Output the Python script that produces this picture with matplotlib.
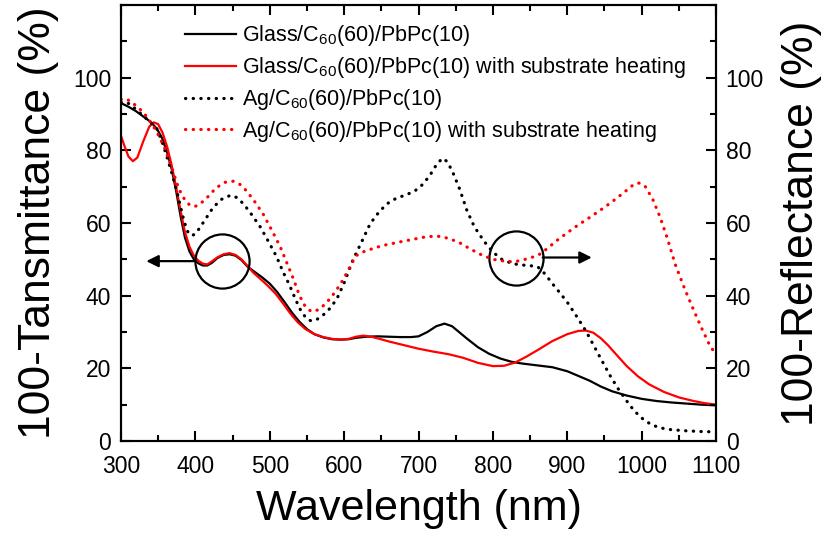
import matplotlib
matplotlib.use("Agg")
import matplotlib.pyplot as plt
from matplotlib.ticker import MultipleLocator

plt.rcParams['font.family'] = ['Liberation Sans', 'DejaVu Sans']
plt.rcParams['mathtext.fontset'] = 'custom'
plt.rcParams['mathtext.rm'] = 'Liberation Sans'
plt.rcParams['mathtext.it'] = 'Liberation Sans:italic'

# Glass/C60/PbPc : 100 - transmittance (%)
wl_glass = [300, 310, 320, 330, 340, 348, 355, 362, 368, 374, 380, 386, 392, 398,
            404, 410, 416, 422, 430, 438, 446, 454, 462, 470, 480, 490, 500, 510,
            520, 530, 540, 550, 560, 572, 584, 596, 606, 616, 630, 645, 660, 675,
            690, 700, 712, 724, 735, 745, 755, 765, 780, 795, 810, 825, 840, 860,
            880, 900, 915, 930, 945, 960, 980, 1000, 1020, 1040, 1060, 1080, 1100]
t_glass = [93.0, 92.0, 90.8, 89.3, 87.8, 86.0, 83.5, 79.5, 75.0, 69.0, 62.0, 56.0,
           52.2, 50.0, 48.9, 48.3, 48.3, 49.0, 50.4, 51.2, 51.4, 51.0, 49.8, 48.0,
           46.5, 45.0, 43.3, 41.0, 38.2, 35.3, 32.8, 30.8, 29.4, 28.5, 28.0, 27.9,
           28.0, 28.4, 28.7, 28.8, 28.7, 28.6, 28.6, 28.8, 30.0, 31.6, 32.3, 31.6,
           29.9, 28.2, 25.8, 24.0, 22.7, 21.8, 21.3, 20.8, 20.3, 19.2, 17.9, 16.6,
           15.0, 13.7, 12.5, 11.6, 11.0, 10.6, 10.3, 10.0, 9.8]

# Glass/C60/PbPc with substrate heating
wl_glass_h = [300, 305, 310, 316, 322, 330, 338, 344, 350, 356, 362, 368, 374, 380,
              386, 392, 398, 404, 410, 416, 422, 430, 438, 446, 454, 462, 470, 478,
              488, 498, 508, 518, 528, 538, 548, 560, 572, 584, 596, 606, 616, 626,
              636, 646, 660, 680, 700, 720, 740, 760, 780, 800, 815, 830, 845, 860,
              880, 900, 915, 925, 935, 945, 955, 965, 980, 995, 1010, 1030, 1050,
              1070, 1085, 1100]
t_glass_h = [84.0, 81.0, 78.3, 77.0, 78.0, 82.5, 86.5, 87.7, 87.2, 84.8, 81.0, 76.0,
             70.0, 63.5, 57.5, 53.5, 51.0, 49.6, 48.8, 48.6, 49.4, 50.6, 51.4, 51.7,
             51.2, 50.0, 48.2, 46.3, 44.5, 42.6, 40.5, 37.8, 35.0, 32.6, 30.8, 29.4,
             28.6, 28.1, 27.9, 28.1, 28.7, 29.0, 28.7, 28.2, 27.4, 26.4, 25.4, 24.6,
             23.9, 22.9, 21.5, 20.6, 20.7, 21.6, 23.2, 25.0, 27.5, 29.4, 30.3, 30.4,
             29.8, 28.3, 26.3, 24.0, 20.6, 17.8, 15.6, 13.5, 12.0, 11.0, 10.4, 10.0]

# Ag/C60/PbPc : 100 - reflectance (%)
wl_ag = [300, 306, 312, 320, 330, 340, 348, 355, 361, 368, 375, 380, 385, 390, 395,
         400, 406, 415, 424, 435, 447, 456, 465, 475, 487, 498, 509, 518, 527, 535,
         542, 549, 555, 562, 570, 580, 590, 600, 612, 624, 635, 646, 657, 670, 684,
         695, 705, 715, 724, 732, 738, 745, 755, 765, 775, 788, 800, 812, 824, 835,
         848, 860, 870, 880, 890, 900, 912, 925, 935, 945, 957, 968, 980, 990, 1002,
         1013, 1025, 1040, 1060, 1080, 1100]
r_ag = [93.2, 93.3, 92.7, 91.3, 89.5, 87.6, 86.0, 82.5, 78.7, 74.0, 68.8, 64.5, 60.3,
        57.5, 56.5, 57.0, 58.7, 61.5, 64.3, 66.5, 67.6, 67.0, 65.2, 62.5, 59.0, 55.0,
        50.8, 46.5, 42.7, 38.8, 35.8, 33.8, 33.1, 33.3, 34.3, 36.3, 39.0, 43.5, 49.9,
        55.0, 59.8, 62.8, 65.2, 66.8, 67.8, 68.8, 70.5, 73.0, 76.0, 77.8, 77.0, 74.5,
        69.5, 63.5, 59.0, 55.0, 52.0, 50.0, 49.0, 48.5, 48.3, 48.0, 46.0, 43.3, 40.8,
        38.2, 34.5, 30.3, 26.5, 22.7, 18.2, 14.5, 11.0, 8.3, 6.0, 4.5, 3.6, 3.1, 2.8,
        2.6, 2.5]

# Ag/C60/PbPc with substrate heating
wl_ag_h = [300, 306, 312, 320, 330, 337, 343, 350, 359, 365, 370, 375, 380, 386, 393,
           400, 406, 415, 428, 440, 451, 460, 469, 480, 491, 502, 514, 523, 532, 540,
           547, 553, 559, 567, 577, 588, 599, 608, 616, 625, 639, 652, 666, 680, 695,
           710, 725, 740, 755, 770, 785, 800, 815, 828, 840, 852, 864, 875, 888, 900,
           915, 930, 945, 960, 975, 990, 997, 1005, 1015, 1025, 1035, 1045, 1058, 1070,
           1081, 1090, 1100]
r_ag_h = [94.0, 94.2, 93.6, 92.3, 90.5, 88.5, 86.8, 84.3, 80.5, 77.0, 74.2, 71.0, 68.5,
          66.3, 64.8, 64.6, 65.2, 66.8, 69.7, 71.2, 71.5, 70.6, 68.8, 65.8, 62.5, 58.3,
          53.5, 49.0, 44.5, 40.0, 37.3, 36.0, 35.6, 36.3, 38.2, 41.0, 44.5, 48.0, 51.0,
          52.0, 53.0, 53.8, 54.4, 55.0, 55.6, 56.2, 56.4, 55.8, 54.6, 52.8, 51.2, 50.0,
          49.5, 49.3, 49.8, 50.5, 51.5, 53.3, 55.5, 57.3, 59.5, 61.5, 63.6, 65.8, 68.2,
          70.7, 71.0, 70.0, 66.5, 61.5, 55.5, 48.7, 41.8, 36.0, 30.9, 27.0, 23.6]

labels = ['Glass/C$_{60}$(60)/PbPc(10)',
          'Glass/C$_{60}$(60)/PbPc(10) with substrate heating',
          'Ag/C$_{60}$(60)/PbPc(10)',
          'Ag/C$_{60}$(60)/PbPc(10) with substrate heating']

fig = plt.figure(figsize=(8.27, 5.37), dpi=100)
ax = fig.add_axes([0.1463, 0.1788, 0.7195, 0.8119])
ax2 = ax.twinx()

dots = (0, (0.1, 2.3))
l1, = ax.plot(wl_glass, t_glass, color='black', lw=1.6)
l2, = ax.plot(wl_glass_h, t_glass_h, color='red', lw=1.6)
l3, = ax2.plot(wl_ag, r_ag, color='black', lw=2.3, linestyle=dots,
               dash_capstyle='round')
l4, = ax2.plot(wl_ag_h, r_ag_h, color='red', lw=2.3, linestyle=dots,
               dash_capstyle='round')

for a in (ax, ax2):
    a.set_xlim(300, 1100)
    a.set_ylim(0, 120)
    a.yaxis.set_minor_locator(MultipleLocator(10))
    a.set_yticks(range(0, 101, 20))
    for s in a.spines.values():
        s.set_linewidth(1.5)

ax.xaxis.set_major_locator(MultipleLocator(100))
ax.xaxis.set_minor_locator(MultipleLocator(50))
ax.tick_params(which='both', direction='in', width=1.5, labelsize=16.5,
               top=True, right=False)
ax.tick_params(axis='x', pad=10)
ax.tick_params(axis='y', pad=7)
ax.tick_params(which='major', length=7)
ax.tick_params(which='minor', length=4)
ax2.tick_params(which='both', direction='in', width=1.5, labelsize=16.5, pad=7)
ax2.tick_params(which='major', length=7)
ax2.tick_params(which='minor', length=4)

ax.set_xlabel('Wavelength (nm)', fontsize=31, labelpad=8)
ax.set_ylabel('100-Tansmittance (%)', fontsize=32, labelpad=10)
ax2.set_ylabel('100-Reflectance (%)', fontsize=32, labelpad=12)

# circles marking which curves belong to which axis
ax.plot([436], [49.5], marker='o', ms=39, mfc='none', mec='black', mew=1.6)
ax.annotate('', xy=(334, 49.5), xytext=(400, 49.5),
            arrowprops=dict(arrowstyle='-|>', color='black', lw=1.6,
                            mutation_scale=18, shrinkA=0, shrinkB=0))
ax.plot([831], [50.5], marker='o', ms=39, mfc='none', mec='black', mew=1.6)
ax.annotate('', xy=(933, 50.5), xytext=(867, 50.5),
            arrowprops=dict(arrowstyle='-|>', color='black', lw=1.6,
                            mutation_scale=18, shrinkA=0, shrinkB=0))

ax2.legend([l1, l2, l3, l4], labels, loc='upper left',
           bbox_to_anchor=(0.107, 0.958), frameon=False, fontsize=15.5,
           handlelength=2.4, handletextpad=0.25, labelspacing=0.32,
           borderpad=0, borderaxespad=0)

fig.savefig('out.png', dpi=100)
